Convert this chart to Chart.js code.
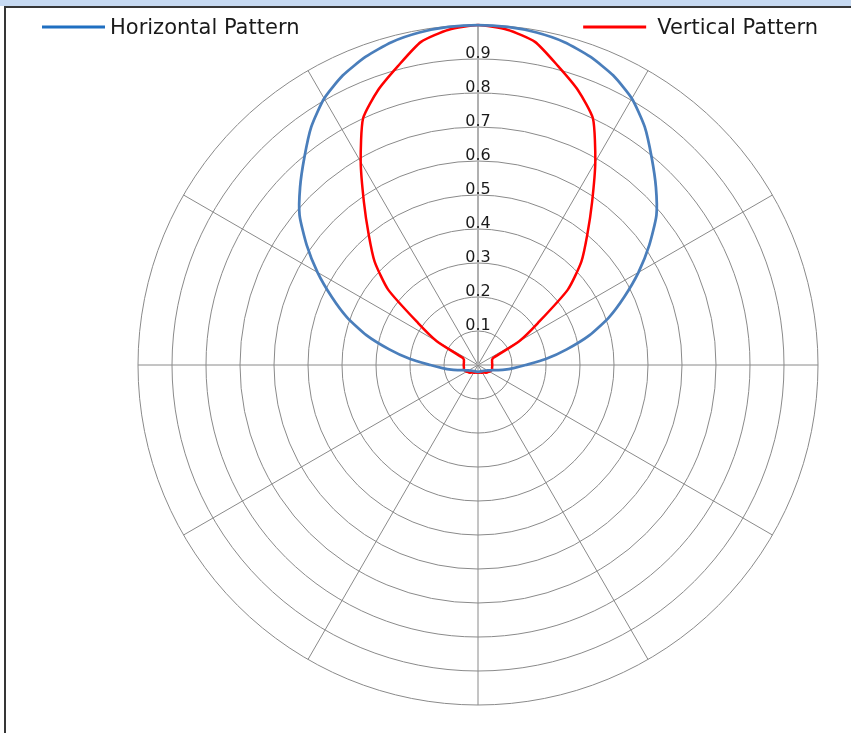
<!DOCTYPE html>
<html>
<head>
<meta charset="utf-8">
<script src="https://cdn.jsdelivr.net/npm/chart.js@4.4.1/dist/chart.umd.min.js"></script>
<style>
	html, body { margin: 0; padding: 0; background: #fff; overflow: hidden; }
	#band { position: absolute; left: 0; top: 0; width: 851px; height: 6px; background: #c6d9f1; }
	#frame {
		position: absolute; left: 4px; top: 6px;
		width: 845px; height: 725px;
		border-left: 2px solid #363636; border-top: 2px solid #363636;
		background: #fff;
	}
</style>
</head>
<body>
<div id="band"></div>
<div id="frame"><canvas id="patternChart"></canvas></div>
<script>
(function () {
	'use strict';

	var angleLabels = [
		'0°', '5°', '10°', '15°', '20°', '25°', '30°', '35°', '40°', '45°', '50°', '55°',
		'60°', '65°', '70°', '75°', '80°', '85°', '90°', '95°', '100°', '105°', '110°', '115°',
		'120°', '125°', '130°', '135°', '140°', '145°', '150°', '155°', '160°', '165°', '170°', '175°',
		'180°', '185°', '190°', '195°', '200°', '205°', '210°', '215°', '220°', '225°', '230°', '235°',
		'240°', '245°', '250°', '255°', '260°', '265°', '270°', '275°', '280°', '285°', '290°', '295°',
		'300°', '305°', '310°', '315°', '320°', '325°', '330°', '335°', '340°', '345°', '350°', '355°'
	];

	var horizontalPattern = [
		1.0, 0.998, 0.993, 0.983, 0.965, 0.94, 0.905, 0.855, 0.795, 0.74, 0.685, 0.615,
		0.545, 0.475, 0.41, 0.34, 0.265, 0.2, 0.14, 0.105, 0.08, 0.058, 0.045, 0.038,
		0.032, 0.029, 0.026, 0.024, 0.023, 0.022, 0.021, 0.021, 0.02, 0.02, 0.02, 0.02,
		0.02, 0.02, 0.02, 0.02, 0.02, 0.021, 0.021, 0.022, 0.023, 0.024, 0.026, 0.029,
		0.032, 0.038, 0.045, 0.058, 0.08, 0.105, 0.14, 0.2, 0.265, 0.34, 0.41, 0.475,
		0.545, 0.615, 0.685, 0.74, 0.795, 0.855, 0.905, 0.94, 0.965, 0.983, 0.993, 0.998
	];

	var verticalPattern = [
		1.0, 0.99, 0.965, 0.91, 0.86, 0.80, 0.69, 0.585, 0.50, 0.43, 0.345, 0.215,
		0.14, 0.05, 0.044, 0.043, 0.042, 0.042, 0.042, 0.042, 0.042, 0.043, 0.043, 0.041,
		0.039, 0.036, 0.034, 0.032, 0.029, 0.027, 0.026, 0.025, 0.024, 0.023, 0.023, 0.023,
		0.023, 0.023, 0.023, 0.023, 0.024, 0.025, 0.026, 0.027, 0.029, 0.032, 0.034, 0.036,
		0.039, 0.041, 0.043, 0.043, 0.042, 0.042, 0.042, 0.042, 0.042, 0.043, 0.044, 0.05,
		0.14, 0.215, 0.345, 0.43, 0.50, 0.585, 0.69, 0.80, 0.86, 0.91, 0.965, 0.99
	];

	var seriesNames = ['Horizontal Pattern', 'Vertical Pattern'];

	// radial value labels sit just above each ring, on the 0° spoke
	var tickLabels = {
		id: 'tickLabels',
		afterDraw: function (chart) {
			var scale = chart.scales.r;
			var ctx = chart.ctx;
			ctx.save();
			ctx.font = '16px "DejaVu Sans", Verdana, sans-serif';
			ctx.fillStyle = '#1a1a1a';
			ctx.textAlign = 'center';
			ctx.textBaseline = 'alphabetic';
			scale.ticks.forEach(function (t) {
				if (t.value <= 0 || t.value > 0.95) return;
				var r = scale.getDistanceFromCenterForValue(t.value);
				ctx.fillText(t.label, scale.xCenter, scale.yCenter - r - 1.5);
			});
			ctx.restore();
		}
	};

	// legend split into the two top corners, like the original sheet
	var cornerLegend = {
		id: 'cornerLegend',
		afterDraw: function (chart, args, opts) {
			var ctx = chart.ctx;
			var sets = chart.data.datasets;
			var y = 19, base = 26.3, keyLen = 63;
			ctx.save();
			ctx.font = '21px "DejaVu Sans", Verdana, sans-serif';
			ctx.textBaseline = 'alphabetic';
			ctx.lineWidth = 3;

			ctx.strokeStyle = opts.colors[0];
			ctx.beginPath();
			ctx.moveTo(36, y);
			ctx.lineTo(36 + keyLen, y);
			ctx.stroke();
			ctx.fillStyle = '#1a1a1a';
			ctx.textAlign = 'left';
			ctx.fillText(sets[0].label, 36 + keyLen + 5, base);

			var right = chart.width - 33;
			var w = ctx.measureText(sets[1].label).width;
			var end = right - w - 11;
			ctx.strokeStyle = opts.colors[1];
			ctx.beginPath();
			ctx.moveTo(end - keyLen, y);
			ctx.lineTo(end, y);
			ctx.stroke();
			ctx.fillText(sets[1].label, right - w, base);
			ctx.restore();
		}
	};

	var canvas = document.getElementById('patternChart');

	new Chart(canvas, {
		type: 'radar',
		data: {
			labels: angleLabels,
			datasets: [
				{
					label: seriesNames[0],
					data: horizontalPattern,
					borderColor: '#4a7ebb',
					borderWidth: 2.75,
					fill: false,
				},
				{
					label: seriesNames[1],
					data: verticalPattern,
					borderColor: '#ff0000',
					borderWidth: 2.5,
					fill: false,
				},
			],
		},
		plugins: [tickLabels, cornerLegend],
		options: {
			responsive: true,
			maintainAspectRatio: false,
			animation: false,
			layout: {
				padding: { left: 132, right: 33, top: 17, bottom: 28 },
			},
			elements: {
				point: { radius: 0, hoverRadius: 0 },
				line: { tension: 0.2, capBezierPoints: false },
			},
			plugins: {
				legend: { display: false },
				tooltip: { enabled: false },
				cornerLegend: { colors: ['#1f6fc1', '#ff0000'] },
			},
			scales: {
				r: {
					min: 0,
					max: 1,
					startAngle: 0,
					ticks: {
						stepSize: 0.1,
						display: false,
					},
					pointLabels: { display: false },
					grid: {
						circular: true,
						color: '#8a8a8a',
						lineWidth: 1,
					},
					angleLines: {
						color: function (c) { return c.index === 0 ? '#b0b0b0' : '#8a8a8a'; },
						lineWidth: function (c) {
							if (c.index === 0) return 2;
							return c.index % 6 === 0 ? 1 : 0;
						},
					},
				},
			},
		},
	});
})();
</script>
</body>
</html>
